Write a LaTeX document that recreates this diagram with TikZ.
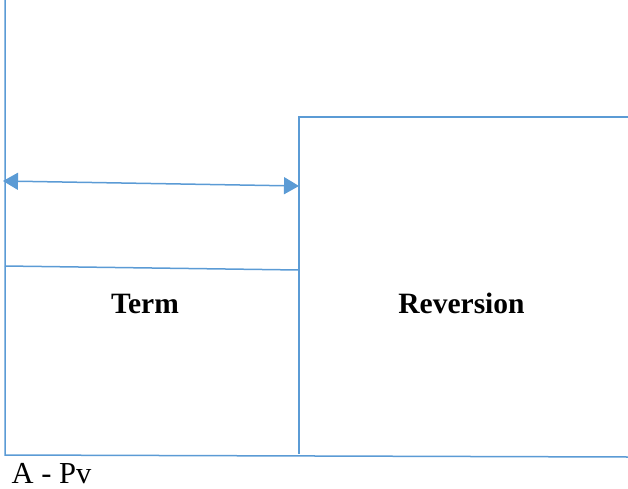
\documentclass[tikz,border=0pt]{standalone}
\usepackage{fontspec}
\setmainfont{Liberation Serif}
\usepackage{tikz}
\usetikzlibrary{
    calc,
    arrows.meta
}
\definecolor{lineblue}{HTML}{5B9BD5}
\tikzset{
    wall/.style={draw=lineblue, line width=1.5pt},
    span/.style={wall, {Triangle[length=15pt,width=17pt]}-{Triangle[length=15pt,width=17pt]}},
    lbl/.style={inner sep=0pt, anchor=base, font=\fontsize{29.5}{35}\selectfont}
}

\begin{document}
\begin{tikzpicture}[x=1pt,y=-1pt]
        \useasboundingbox (0,0) rectangle (628,489);

        \draw (5,0)     coordinate(top);
        \draw (5,455)   coordinate(bl);
        \draw (628,457) coordinate(br);
        \draw (299,117) coordinate(mt);
        \draw (299,454) coordinate(mb);
        \draw (628,117) coordinate(tr);
        \draw (5,266)   coordinate(cl);
        \draw (299,270) coordinate(cr);
        \draw (3,181)   coordinate(al);
        \draw (299,186) coordinate(ar);

        \draw[wall] (top) -- (bl) -- (br);
        \draw[wall] (tr) -- (mt) -- (mb);
        \draw[wall] (cl) -- (cr);
        \draw[span] (al) -- (ar);

        \draw (145,313)   node[lbl](term){\bfseries Term};
        \draw (461.5,313) node[lbl](rev){\bfseries Reversion};
        \draw (51.5,483)  node[lbl, font=\fontsize{30.5}{36}\selectfont](apv){A - Pv};
    \end{tikzpicture}
\end{document}
